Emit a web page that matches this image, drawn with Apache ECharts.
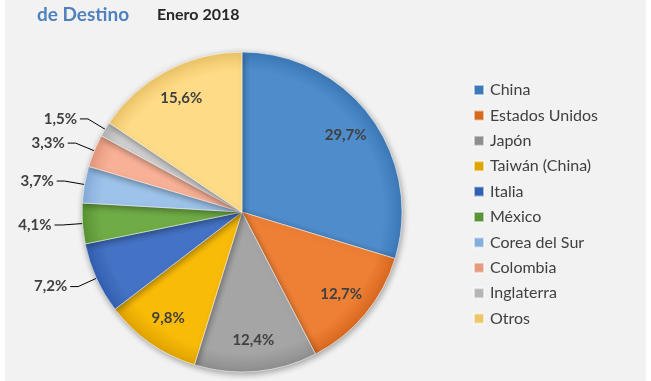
<!DOCTYPE html>
<html><head><meta charset="utf-8">
<script src="https://cdn.jsdelivr.net/npm/echarts@6/dist/echarts.min.js"></script>
<style>html,body{margin:0;padding:0;background:#fff}#c{width:651px;height:381px}</style>
</head><body><div id="c"></div>
<script>
const categories = ['China','Estados Unidos','Japón','Taiwán (China)','Italia','México','Corea del Sur','Colombia','Inglaterra','Otros'];
const values = [29.7, 12.7, 12.4, 9.8, 7.2, 4.1, 3.7, 3.3, 1.5, 15.6];
const outsideLabel = [false,false,false,false,true,true,true,true,true,false];
const titleText = 'de Destino';
const subtitleText = 'Enero 2018';

const baseColors = ['#4f8ccb','#ee8035','#a5a5a5','#f8bb08','#4472c4','#6fac46','#9dc3ea','#f8b096','#cfcfcf','#fedb86'];
const edgeColors = ['#3c79b8','#d9681f','#8e8e8e','#e0a400','#3360b0','#5a9434','#86aedb','#e59a7e','#b5b5b5','#eec66a'];
const FONT = 'Lato';
const cx = 242, cy = 212, R = 160;

function grad(i){
  return new echarts.graphic.RadialGradient(cx, cy, R, [
    {offset:0, color: baseColors[i]},
    {offset:0.88, color: baseColors[i]},
    {offset:1, color: edgeColors[i]}
  ], true);
}
function fmt(v){ return v.toFixed(1).replace('.', ',') + '%'; }

const mainData = categories.map((n,i)=>({
  name:n, value: values[i],
  itemStyle:{color: grad(i)},
  label:{show: outsideLabel[i]},
  labelLine:{show: outsideLabel[i]}
}));
const innerData = categories.map((n,i)=>({
  name:n, value: values[i],
  label:{show: !outsideLabel[i]}
}));

const chart = echarts.init(document.getElementById('c'), null, {renderer:'canvas'});
chart.setOption({
  animation:false,
  backgroundColor:'#ffffff',
  color: baseColors,
  graphic:[
    {type:'rect', z:-10, shape:{x:5,y:0,width:641,height:381}, style:{fill:'#f2f2f2'}},
    {type:'text', left:37, top:5, style:{text:titleText, fill:'#4f81bd', font:'bold 19px '+FONT}},
    {type:'text', left:157, top:7, style:{text:subtitleText, fill:'#262626', font:'bold 16px '+FONT}}
  ],
  legend:{
    orient:'vertical', left:473, top:82, padding:0,
    itemWidth:10, itemHeight:10, itemGap:9.4,
    icon:'rect',
    data: categories,
    textStyle:{color:'#404040', fontSize:16, fontFamily:FONT, lineHeight:16, padding:[0,0,0,1]}
  },
  series:[
    {
      type:'pie', center:[cx,cy], radius:[0,R], startAngle:90, clockwise:true,
      avoidLabelOverlap:true, legendHoverLink:false,
      itemStyle:{borderColor:'rgba(255,255,255,0.55)', borderWidth:1, shadowColor:'rgba(0,0,0,0.35)', shadowBlur:6, shadowOffsetX:1, shadowOffsetY:2},
      label:{position:'outside', formatter:p=>fmt(p.value), color:'#404040', fontSize:15, fontWeight:'bold', fontFamily:FONT, distanceToLabelLine:3, padding:[0,0,7,0]},
      labelLine:{length:20, length2:8, lineStyle:{color:'#000', width:1}},
      data: mainData
    },
    {
      type:'pie', center:[cx,cy], radius:[92,R], startAngle:90, clockwise:true, silent:true,
      legendHoverLink:false,
      itemStyle:{color:'rgba(0,0,0,0)', borderWidth:0},
      label:{position:'inside', formatter:p=>fmt(p.value), color:'#404040', fontSize:15, fontWeight:'bold', fontFamily:FONT},
      labelLine:{show:false},
      data: innerData
    }
  ]
});
</script>
</body></html>
